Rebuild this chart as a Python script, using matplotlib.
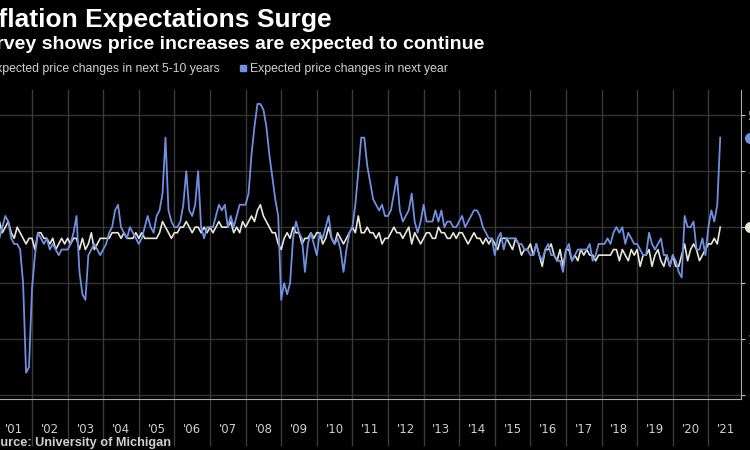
import matplotlib
matplotlib.use("Agg")
import matplotlib.pyplot as plt
from matplotlib.patches import Rectangle
import numpy as np

# Datos mensuales, enero 2001 - mayo 2021 (%)
one_year = [
    # 2001
    2.9, 2.8, 3.0, 3.2, 3.1, 2.8, 2.7, 2.7, 2.6, 2.0, 0.4, 0.5,
    # 2002
    1.9, 2.5, 2.9, 2.8, 2.7, 2.8, 2.6, 2.7, 2.6, 2.5, 2.6, 2.6,
    # 2003
    2.6, 2.7, 2.9, 3.2, 2.2, 1.8, 1.7, 2.5, 2.6, 2.7, 2.6, 2.5,
    # 2004
    2.6, 2.7, 2.9, 3.0, 3.3, 3.4, 3.0, 2.9, 2.8, 3.0, 2.9, 2.8,
    # 2005
    2.7, 2.8, 3.0, 3.2, 3.0, 2.9, 3.2, 3.3, 3.6, 4.6, 3.3, 3.1,
    # 2006
    3.0, 3.0, 3.1, 3.4, 4.0, 3.3, 3.2, 3.4, 4.0, 3.0, 2.8, 3.0,
    # 2007
    3.0, 3.0, 3.2, 3.4, 3.3, 3.4, 3.0, 3.2, 3.0, 3.2, 3.4, 3.4,
    # 2008
    3.4, 3.6, 4.3, 4.8, 5.2, 5.2, 5.1, 4.8, 4.3, 3.9, 3.5, 3.2,
    # 2009
    1.7, 2.0, 1.8, 2.0, 2.8, 3.1, 2.9, 2.8, 2.2, 2.7, 2.9, 2.7,
    # 2010
    2.5, 2.9, 2.8, 3.0, 3.2, 2.8, 2.7, 2.8, 2.6, 2.2, 2.6, 2.9,
    # 2011
    3.0, 3.4, 4.0, 4.6, 4.6, 4.1, 3.8, 3.5, 3.4, 3.3, 3.4, 3.2,
    # 2012
    3.2, 3.3, 3.6, 3.9, 3.3, 3.1, 3.2, 3.3, 3.6, 3.1, 2.9, 3.1,
    # 2013
    3.4, 3.1, 3.1, 3.1, 3.3, 3.1, 3.3, 3.0, 3.1, 3.1, 3.0, 3.0,
    # 2014
    3.1, 3.2, 3.0, 3.1, 3.2, 3.3, 3.3, 3.2, 3.0, 2.9, 2.8, 2.8,
    # 2015
    2.5, 2.8, 2.9, 2.6, 2.8, 2.8, 2.8, 2.8, 2.7, 2.7, 2.6, 2.6,
    # 2016
    2.5, 2.5, 2.7, 2.5, 2.4, 2.6, 2.7, 2.5, 2.5, 2.4, 2.4, 2.2,
    # 2017
    2.6, 2.7, 2.4, 2.5, 2.6, 2.6, 2.6, 2.6, 2.7, 2.4, 2.5, 2.7,
    # 2018
    2.7, 2.7, 2.8, 2.7, 2.9, 3.0, 2.9, 3.0, 2.7, 2.9, 2.8, 2.7,
    # 2019
    2.7, 2.6, 2.5, 2.5, 2.9, 2.7, 2.6, 2.7, 2.8, 2.5, 2.5, 2.3,
    # 2020
    2.5, 2.4, 2.2, 2.1, 3.2, 3.0, 3.0, 3.1, 2.6, 2.6, 2.8, 2.5,
    # 2021
    3.0, 3.3, 3.1, 3.4, 4.6,
]

five_ten_year = [
    # 2001
    2.9, 3.1, 2.9, 3.0, 3.1, 2.9, 2.8, 3.0, 2.9, 2.8, 2.7, 2.8,
    # 2002
    2.8, 2.6, 2.9, 2.9, 2.8, 2.8, 2.7, 2.8, 2.6, 2.7, 2.8, 2.7,
    # 2003
    2.8, 2.7, 2.8, 2.8, 2.6, 2.8, 2.6, 2.7, 2.9, 2.6, 2.7, 2.8,
    # 2004
    2.8, 2.8, 2.8, 2.9, 2.9, 2.9, 2.8, 2.9, 2.8, 2.8, 2.8, 2.9,
    # 2005
    2.8, 2.9, 2.8, 2.8, 2.8, 2.8, 2.8, 2.9, 3.1, 3.0, 2.9, 2.8,
    # 2006
    2.9, 2.9, 3.0, 3.0, 3.1, 3.0, 2.9, 3.0, 3.0, 2.9, 3.0, 2.9,
    # 2007
    3.0, 2.9, 3.0, 3.1, 3.0, 3.0, 3.0, 3.1, 2.9, 3.0, 2.9, 3.1,
    # 2008
    3.0, 3.1, 3.2, 3.1, 3.3, 3.4, 3.2, 3.1, 3.0, 2.9, 2.9, 2.7,
    # 2009
    2.6, 2.8, 2.9, 2.8, 3.0, 2.9, 2.9, 2.7, 2.8, 2.8, 2.9, 2.8,
    # 2010
    2.9, 2.9, 2.7, 2.8, 3.0, 2.8, 2.7, 2.9, 2.8, 2.7, 2.8, 2.9,
    # 2011
    3.0, 2.9, 3.2, 2.9, 2.9, 3.0, 2.9, 2.9, 2.8, 2.9, 2.7, 2.8,
    # 2012
    2.8, 2.9, 3.0, 2.9, 2.9, 2.8, 2.9, 3.0, 2.7, 2.9, 2.8, 2.7,
    # 2013
    2.8, 2.9, 2.9, 2.8, 2.8, 3.0, 2.9, 2.9, 2.8, 2.8, 2.9, 2.8,
    # 2014
    2.9, 2.9, 2.8, 2.7, 2.8, 2.9, 2.8, 2.8, 2.7, 2.8, 2.7, 2.8,
    # 2015
    2.7, 2.6, 2.8, 2.8, 2.8, 2.7, 2.6, 2.8, 2.7, 2.5, 2.6, 2.6,
    # 2016
    2.7, 2.5, 2.7, 2.5, 2.3, 2.6, 2.6, 2.7, 2.5, 2.4, 2.6, 2.3,
    # 2017
    2.6, 2.6, 2.4, 2.5, 2.4, 2.6, 2.5, 2.6, 2.5, 2.5, 2.4, 2.5,
    # 2018
    2.5, 2.5, 2.5, 2.5, 2.6, 2.6, 2.4, 2.6, 2.5, 2.4, 2.6, 2.5,
    # 2019
    2.6, 2.3, 2.5, 2.5, 2.6, 2.3, 2.5, 2.6, 2.4, 2.3, 2.5, 2.3,
    # 2020
    2.5, 2.3, 2.3, 2.5, 2.7, 2.4, 2.6, 2.7, 2.6, 2.4, 2.5, 2.6,
    # 2021
    2.7, 2.7, 2.8, 2.7, 3.0,
]

year_labels = ["'%02d" % (y % 100) for y in range(2001, 2022)]
y_ticks = [0, 1, 2, 3, 4, 5]

BLUE = "#6f8fe0"
WHITE = "#e6e6d8"
GRID = "#333333"

meses = np.arange(len(one_year))

fig = plt.figure(figsize=(7.5, 4.5), dpi=100, facecolor="black")
W, H = 750.0, 450.0

# Ejes (el borde izquierdo queda recortado, como en la imagen original)
left_px, right_px, top_px, bottom_px = -3.6, 741.0, 90.0, 399.0
ax = fig.add_axes([left_px / W, 1 - bottom_px / H,
                   (right_px - left_px) / W, (bottom_px - top_px) / H])
ax.set_facecolor("black")

ax.plot(meses, five_ten_year, color=WHITE, lw=1.2, zorder=3)
ax.plot(meses, one_year, color=BLUE, lw=1.3, zorder=4)

ax.set_xlim(0, 251)
ax.set_ylim(-0.07, 5.45)

# Ticks de años: líneas largas en el inicio de cada año, etiqueta a mitad
ax.set_xticks(np.arange(0, 252, 12))
ax.set_xticklabels([])
ax.set_xticks(np.arange(6, 252, 12), minor=True)
ax.set_xticklabels(year_labels, minor=True)
ax.tick_params(axis="x", which="major", length=34, color="#3a3a3a", width=1)
ax.tick_params(axis="x", which="minor", length=0, pad=17,
               labelsize=8.5, labelcolor="#cfcfcf")

ax.yaxis.tick_right()
ax.set_yticks(y_ticks)
ax.set_yticklabels([str(t) for t in y_ticks])
ax.tick_params(axis="y", length=3, color="#bbbbbb", labelsize=9,
               labelcolor="#cfcfcf", pad=2)

ax.grid(axis="y", color=GRID, lw=1)
ax.grid(axis="x", which="major", color="#3a3a3a", lw=1)

for lado in ["top", "left"]:
    ax.spines[lado].set_visible(False)
ax.spines["bottom"].set_color("#aaaaaa")
ax.spines["right"].set_color("#aaaaaa")

# Marcadores del último valor sobre el eje
ax.plot([254], [one_year[-1]], "o", color=BLUE, ms=7, clip_on=False, zorder=5)
ax.plot([254], [five_ten_year[-1]], "o", color=WHITE, ms=7, clip_on=False, zorder=5)


def px(x, y):
    return x / W, 1 - y / H


# Títulos
fig.text(*px(-25, 27), "Inflation Expectations Surge", color="white",
         fontsize=19, fontweight="bold", family="Liberation Sans")
fig.text(*px(-29, 49), "Survey shows price increases are expected to continue",
         color="white", fontsize=14, fontweight="bold", family="Liberation Sans")

# Leyenda
fig.patches.append(Rectangle(px(-22, 72), 6 / W, 6 / H, transform=fig.transFigure,
                             color=WHITE))
fig.text(*px(-12, 72), "Expected price changes in next 5-10 years",
         color="#cfcfcf", fontsize=8.8, family="Liberation Sans")
fig.patches.append(Rectangle(px(240, 71), 6 / W, 6 / H, transform=fig.transFigure,
                             color=BLUE))
fig.text(*px(250, 72), "Expected price changes in next year",
         color="#cfcfcf", fontsize=8.8, family="Liberation Sans")

# Fuente
fig.text(*px(-16, 446), "Source: University of Michigan", color="#cfcfcf",
         fontsize=9.2, fontweight="bold", family="Liberation Sans")

plt.savefig("out.png", dpi=100, facecolor="black")
plt.close()
